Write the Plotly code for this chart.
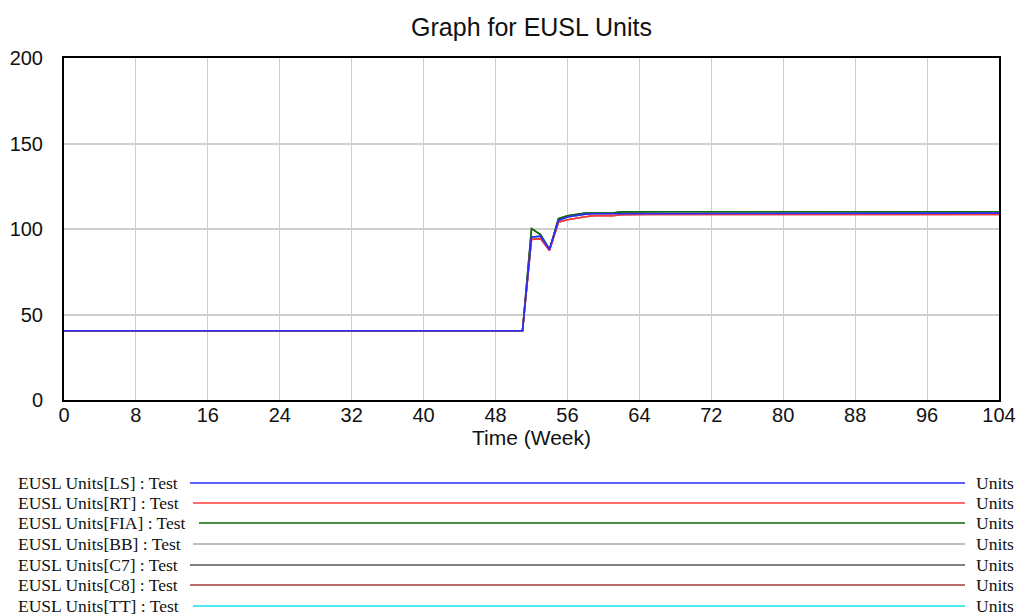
import plotly.graph_objects as go

# ---------------- data ----------------
weeks = list(range(0, 105))

# values: weeks 0-51 flat, weeks 52-62 transition, weeks 63-104 plateau
ls_values = [40.5] * 52 + [95.2, 95.8, 88.0, 105.0, 107.0, 107.9, 108.7, 108.9, 108.9, 108.9, 109.3] + [109.3] * 42
rt_values = [40.5] * 52 + [93.9, 94.4, 87.4, 104.0, 105.4, 106.4, 107.2, 107.8, 107.8, 107.8, 108.3] + [108.5] * 42
fia_values = [40.5] * 52 + [100.2, 96.7, 88.0, 106.0, 107.8, 108.7, 109.3, 109.3, 109.3, 109.3, 110.0] + [110.1] * 42
bb_values = list(ls_values)
c7_values = list(fia_values)
c8_values = list(rt_values)
tt_values = list(ls_values)

series_names = ["EUSL Units[LS] : Test", "EUSL Units[RT] : Test", "EUSL Units[FIA] : Test",
                "EUSL Units[BB] : Test", "EUSL Units[C7] : Test", "EUSL Units[C8] : Test",
                "EUSL Units[TT] : Test"]
series_values = [ls_values, rt_values, fia_values, bb_values, c7_values, c8_values, tt_values]
series_colors = ["#2b2bff", "#ff3b3b", "#0b6b0b", "#a8a8a8", "#555555", "#a83a3a", "#16e0e8"]
unit_label = "Units"

x_ticks = list(range(0, 105, 8))
y_ticks = [0, 50, 100, 150, 200]

# ---------------- layout constants ----------------
W, H = 1019, 616
ML, MR, MT, MB = 64, 20, 58, 216
PW, PH = W - ML - MR, H - MT - MB


def px_x(px):
    return (px - ML) / PW


def px_y(py):
    return (H - MB - py) / PH


fig = go.Figure()

# draw hidden-under series first, then FIA, RT and LS on top
draw_order = [6, 5, 4, 3, 2, 1, 0]
for i in draw_order:
    fig.add_trace(go.Scatter(
        x=weeks, y=series_values[i], mode="lines", name=series_names[i],
        line=dict(color=series_colors[i], width=1.6), showlegend=False,
    ))

# custom Vensim-style legend below the chart
legend_font = dict(family="Liberation Serif, Times New Roman, serif", size=17.5, color="#111111")
legend_rows_y = [483, 503, 523, 544, 565, 585, 606]
legend_line_start = [190, 193, 199, 193, 190, 190, 193]
legend_line_end = 965
annotations = []
shapes = []
for i, name in enumerate(series_names):
    yy = px_y(legend_rows_y[i])
    annotations.append(dict(
        x=px_x(16), y=yy, xref="paper", yref="paper", text=name, showarrow=False,
        xanchor="left", yanchor="middle", font=legend_font,
    ))
    annotations.append(dict(
        x=px_x(1016), y=yy, xref="paper", yref="paper", text=unit_label, showarrow=False,
        xanchor="right", yanchor="middle", font=legend_font,
    ))
    shapes.append(dict(
        type="line", xref="paper", yref="paper",
        x0=px_x(legend_line_start[i]), x1=px_x(legend_line_end), y0=yy, y1=yy,
        line=dict(color=series_colors[i], width=1.3),
    ))

axis_font = dict(family="Liberation Sans, Arial, sans-serif", size=20, color="#111111")

fig.update_layout(
    width=W, height=H,
    margin=dict(l=ML, r=MR, t=MT, b=MB, autoexpand=False),
    paper_bgcolor="white", plot_bgcolor="white",
    showlegend=False,
    title=dict(text="Graph for EUSL Units", x=0.5, xref="paper", xanchor="center",
               y=1 - 27 / H, yref="container", yanchor="middle",
               font=dict(family="Liberation Sans, Arial, sans-serif", size=25, color="#111111")),
    xaxis=dict(
        range=[0, 104], tickvals=x_ticks, ticktext=[str(v) for v in x_ticks],
        showgrid=True, gridcolor="#cfcfcf", gridwidth=1,
        showline=True, linecolor="black", linewidth=2, mirror=True,
        zeroline=False, ticks="", tickfont=axis_font, automargin=False,
        ticklabelstandoff=-4,
        title=dict(text="Time (Week)", font=dict(family="Liberation Sans, Arial, sans-serif", size=21, color="#111111"), standoff=2),
    ),
    yaxis=dict(
        range=[0, 200], tickvals=y_ticks, ticktext=[str(v) for v in y_ticks],
        showgrid=True, gridcolor="#cfcfcf", gridwidth=1.5,
        showline=True, linecolor="black", linewidth=2, mirror=True,
        zeroline=False, ticks="", tickfont=axis_font, ticklabelstandoff=15, automargin=False,
    ),
    annotations=annotations,
    shapes=shapes,
)

fig.write_html("out.html", config={"displayModeBar": False},
               post_script="document.body.style.margin='0';")
